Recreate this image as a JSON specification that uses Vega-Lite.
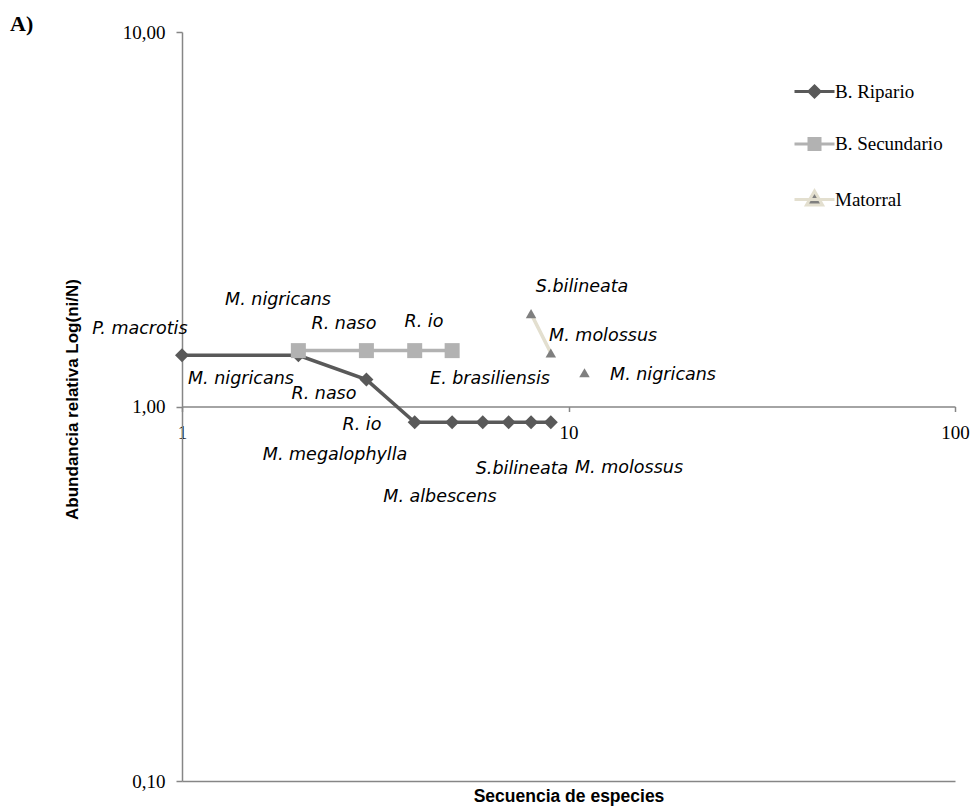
{
  "$schema": "https://vega.github.io/schema/vega-lite/v6.json",
  "width": 773,
  "height": 749,
  "autosize": {"type": "none"},
  "padding": {"left": 182, "top": 32, "right": 16, "bottom": 31},
  "background": "white",
  "title": {"text": "A)", "anchor": "start", "frame": "group", "font": "Liberation Serif", "fontSize": 22, "fontWeight": "bold", "color": "#000000", "dx": -172, "dy": 13, "offset": 0},
  "config": {"view": {"stroke": null}},
  "datasets": {
    "pts": [
      {"series": "B. Ripario", "seg": "R", "x": 1, "y": 1.37},
      {"series": "B. Ripario", "seg": "R", "x": 2, "y": 1.37},
      {"series": "B. Ripario", "seg": "R", "x": 3, "y": 1.18},
      {"series": "B. Ripario", "seg": "R", "x": 4, "y": 0.908},
      {"series": "B. Ripario", "seg": "R", "x": 5, "y": 0.908},
      {"series": "B. Ripario", "seg": "R", "x": 6, "y": 0.908},
      {"series": "B. Ripario", "seg": "R", "x": 7, "y": 0.908},
      {"series": "B. Ripario", "seg": "R", "x": 8, "y": 0.908},
      {"series": "B. Ripario", "seg": "R", "x": 9, "y": 0.908},
      {"series": "B. Secundario", "seg": "S", "x": 2, "y": 1.41},
      {"series": "B. Secundario", "seg": "S", "x": 3, "y": 1.41},
      {"series": "B. Secundario", "seg": "S", "x": 4, "y": 1.41},
      {"series": "B. Secundario", "seg": "S", "x": 5, "y": 1.41},
      {"series": "Matorral", "seg": "M1", "x": 8, "y": 1.77},
      {"series": "Matorral", "seg": "M1", "x": 9, "y": 1.39},
      {"series": "Matorral", "seg": "M2", "x": 11, "y": 1.23}
    ],
    "labels": [
      {"label": "P. macrotis", "x": 0.778, "y": 1.606},
      {"label": "M. nigricans", "x": 1.772, "y": 1.919},
      {"label": "R. naso", "x": 2.625, "y": 1.656},
      {"label": "R. io", "x": 4.228, "y": 1.686},
      {"label": "M. nigricans", "x": 1.421, "y": 1.181},
      {"label": "R. naso", "x": 2.33, "y": 1.077},
      {"label": "R. io", "x": 2.922, "y": 0.895},
      {"label": "M. megalophylla", "x": 2.489, "y": 0.74},
      {"label": "M. albescens", "x": 4.651, "y": 0.575},
      {"label": "E. brasiliensis", "x": 6.265, "y": 1.181},
      {"label": "S.bilineata", "x": 7.581, "y": 0.679},
      {"label": "M. molossus", "x": 14.34, "y": 0.687},
      {"label": "S.bilineata", "x": 10.84, "y": 2.091},
      {"label": "M. molossus", "x": 12.29, "y": 1.538},
      {"label": "M. nigricans", "x": 17.56, "y": 1.217}
    ],
    "leg": [
      {"series": "B. Ripario", "x": 1, "y": 1},
      {"series": "B. Secundario", "x": 1, "y": 1},
      {"series": "Matorral", "x": 1, "y": 1}
    ]
  },
  "resolve": {"axis": {"x": "independent"}},
  "layer": [
    {
      "data": {"name": "pts"},
      "transform": [{"filter": "datum.series === 'B. Ripario'"}],
      "mark": {"type": "line", "color": "#595959", "strokeWidth": 3.5},
      "encoding": {
        "x": {"field": "x", "type": "quantitative", "scale": {"type": "log", "domain": [1, 100], "nice": false, "zero": false},
          "axis": {"orient": "bottom", "offset": -374.5, "values": [1, 10, 100], "format": "d", "title": null, "grid": false,
            "tickSize": 5, "tickColor": "#868686", "tickWidth": 1.5, "domainColor": "#868686", "domainWidth": 1.5,
            "labelFont": "Liberation Serif", "labelFontSize": 19, "labelColor": "#000000", "labelPadding": 12, "labelFlush": false}},
        "y": {"field": "y", "type": "quantitative", "scale": {"type": "log", "domain": [0.1, 10], "nice": false, "zero": false},
          "axis": {"values": [0.1, 1, 10], "labelExpr": "replace(format(datum.value, '.2f'), '.', ',')", "grid": false,
            "tickSize": 6, "tickColor": "#868686", "tickWidth": 1.5, "domainColor": "#868686", "domainWidth": 1.5,
            "labelFont": "Liberation Serif", "labelFontSize": 19, "labelColor": "#000000", "labelPadding": 11,
            "title": "Abundancia relativa Log(ni/N)", "titleFont": "Liberation Sans", "titleFontWeight": "bold", "titleFontSize": 17,
            "titleColor": "#000000", "titleX": -110, "titleY": 367, "titleBaseline": "middle", "titleAngle": -90}}
      }
    },
    {
      "data": {"name": "pts"},
      "transform": [{"filter": "datum.series === 'B. Ripario'"}],
      "mark": {"type": "point", "shape": "diamond", "filled": true, "color": "#595959", "opacity": 1, "size": 196},
      "encoding": {
        "x": {"field": "x", "type": "quantitative", "axis": null},
        "y": {"field": "y", "type": "quantitative"}
      }
    },
    {
      "data": {"name": "pts"},
      "transform": [{"filter": "datum.series === 'B. Secundario'"}],
      "mark": {"type": "line", "color": "#b2b2b2", "strokeWidth": 3.5},
      "encoding": {
        "x": {"field": "x", "type": "quantitative", "axis": null},
        "y": {"field": "y", "type": "quantitative"}
      }
    },
    {
      "data": {"name": "pts"},
      "transform": [{"filter": "datum.series === 'B. Secundario'"}],
      "mark": {"type": "point", "shape": "square", "filled": true, "color": "#b2b2b2", "opacity": 1, "size": 225},
      "encoding": {
        "x": {"field": "x", "type": "quantitative", "axis": null},
        "y": {"field": "y", "type": "quantitative"}
      }
    },
    {
      "data": {"name": "pts"},
      "transform": [{"filter": "datum.series === 'Matorral'"}],
      "mark": {"type": "line", "color": "#e3dfcf", "strokeWidth": 3.5},
      "encoding": {
        "x": {"field": "x", "type": "quantitative", "axis": null},
        "y": {"field": "y", "type": "quantitative"},
        "detail": {"field": "seg"}
      }
    },
    {
      "data": {"name": "pts"},
      "transform": [{"filter": "datum.series === 'Matorral'"}],
      "mark": {"type": "point", "shape": "triangle-up", "filled": true, "color": "#7f7f7f", "opacity": 1, "size": 110},
      "encoding": {
        "x": {"field": "x", "type": "quantitative", "axis": null},
        "y": {"field": "y", "type": "quantitative"}
      }
    },
    {
      "data": {"name": "labels"},
      "mark": {"type": "text", "font": "DejaVu Sans", "fontStyle": "italic", "fontSize": 17.5, "align": "center", "baseline": "middle", "color": "#000000"},
      "encoding": {
        "x": {"field": "x", "type": "quantitative", "axis": null},
        "y": {"field": "y", "type": "quantitative"},
        "text": {"field": "label"}
      }
    },
    {
      "data": {"name": "leg"},
      "mark": {"type": "point", "filled": true, "opacity": 0, "size": 400},
      "encoding": {
        "x": {"field": "x", "type": "quantitative",
          "axis": {"orient": "bottom", "labels": false, "ticks": false, "grid": false, "domainColor": "#868686", "domainWidth": 1.5,
            "title": "Secuencia de especies", "titleFont": "Liberation Sans", "titleFontWeight": "bold", "titleFontSize": 17.5,
            "titleColor": "#000000", "titlePadding": 6}},
        "y": {"field": "y", "type": "quantitative"},
        "shape": {"field": "series", "type": "nominal",
          "scale": {"domain": ["B. Ripario", "B. Secundario", "Matorral"],
            "range": ["M-2,0L2,0M0,-0.55L0.55,0L0,0.55L-0.55,0Z", "M-2,0L2,0M-0.55,-0.55L0.55,-0.55L0.55,0.55L-0.55,0.55Z", "M-2,0L2,0M0,-0.85L0.8,0.55L-0.8,0.55Z"]},
          "legend": {"orient": "none", "legendX": 621, "legendY": 48, "title": null, "padding": 0,
            "labelFont": "Liberation Serif", "labelFontSize": 19, "labelColor": "#000000", "labelOffset": 9,
            "symbolSize": 400, "symbolStrokeWidth": 3, "symbolOpacity": 1, "rowPadding": 29.5}},
        "fill": {"field": "series", "type": "nominal",
          "scale": {"domain": ["B. Ripario", "B. Secundario", "Matorral"], "range": ["#595959", "#b2b2b2", "#7f7f7f"]}},
        "stroke": {"field": "series", "type": "nominal",
          "scale": {"domain": ["B. Ripario", "B. Secundario", "Matorral"], "range": ["#595959", "#b2b2b2", "#e3dfcf"]}}
      }
    }
  ]
}
